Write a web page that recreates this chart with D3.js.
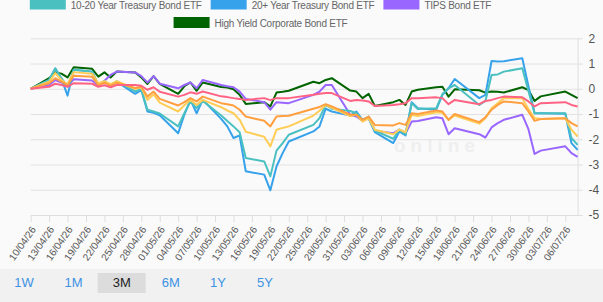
<!DOCTYPE html>
<html><head><meta charset="utf-8">
<script src="https://cdn.jsdelivr.net/npm/d3@7"></script>
<style>
html,body{margin:0;padding:0;background:#fafafa;}
svg{display:block;font-family:"Liberation Sans",Arial,Helvetica,sans-serif;}
</style></head>
<body>
<svg id="chart" width="603" height="302"></svg>
<script>
const dates = ["10/04/26","13/04/26","14/04/26","15/04/26","16/04/26","17/04/26",
"20/04/26","21/04/26","22/04/26","23/04/26","24/04/26",
"27/04/26","28/04/26","29/04/26","30/04/26","01/05/26",
"04/05/26","05/05/26","06/05/26","07/05/26","08/05/26",
"11/05/26","12/05/26","13/05/26","14/05/26","15/05/26",
"18/05/26","19/05/26","20/05/26","21/05/26","22/05/26",
"26/05/26","27/05/26","28/05/26","29/05/26",
"01/06/26","02/06/26","03/06/26","04/06/26","05/06/26",
"08/06/26","09/06/26","10/06/26","11/06/26","12/06/26",
"15/06/26","16/06/26","17/06/26","18/06/26",
"22/06/26","23/06/26","24/06/26","25/06/26","26/06/26",
"29/06/26","30/06/26","01/07/26","02/07/26",
"06/07/26","07/07/26","08/07/26"];

const treasury1to3 = [0,0.08,0.2,0.15,0.08,0.22, 0.2,0.08,0.14,0.06,0.15, 0.15,0.12,-0.04,0.06,-0.12,
-0.31,-0.24,-0.14,-0.2,-0.11, -0.3,-0.33,-0.37,-0.4,-0.44, -0.37,-0.45,-0.37,-0.37,-0.37,
-0.24,-0.2,-0.17,-0.17, -0.48,-0.44,-0.46,-0.5,-0.68, -0.64,-0.61,-0.57,-0.37,-0.37,
-0.34,-0.37,-0.61,-0.44, -0.61,-0.48,-0.44,-0.37,-0.31, -0.34,-0.5,-0.7,-0.57, -0.53,-0.64,-0.7];

const treasury3to7 = [0,0.22,0.42,0.28,0.14,0.52, 0.48,0.14,0.24,0.12,0.24, 0.03,0.08,-0.31,-0.11,-0.4,
-0.66,-0.53,-0.37,-0.5,-0.31, -0.57,-0.61,-0.66,-0.83,-1.1, -1.27,-1.49,-1.1,-1.08,-1.07,
-0.79,-0.72,-0.61,-0.7, -1.03,-1.03,-1.23,-1.1,-1.43, -1.45,-1.36,-1.43,-0.97,-1.0,
-0.86,-0.9,-1.23,-1.0, -1.32,-1.13,-0.83,-0.64,-0.5, -0.57,-0.9,-1.27,-1.2, -1.17,-1.36,-1.49];

const treasury7to10 = [0,0.28,0.62,0.35,0.18,0.66, 0.6,0.22,0.3,0.18,0.3, 0.0,0.05,-0.44,-0.22,-0.55,
-0.9,-0.65,-0.44,-0.64,-0.44, -0.73,-0.86,-0.97,-1.23,-1.7, -1.9,-2.28,-1.62,-1.55,-1.49,
-1.06,-0.87,-0.64,-0.75, -1.08,-1.03,-1.3,-1.17,-1.62, -1.8,-1.62,-1.72,-1.03,-1.08,
-0.93,-0.95,-1.23,-1.06, -1.38,-1.17,-0.77,-0.57,-0.37, -0.37,-0.8,-1.16,-1.2, -1.17,-1.62,-1.89];

const treasury10to20 = [0,0.35,0.81,0.42,0.09,0.75, 0.68,0.15,0.31,0.12,0.3, -0.1,-0.02,-0.83,-0.9,-0.98,
-1.49,-0.97,-0.5,-0.77,-0.48, -1.06,-1.28,-1.49,-1.72,-2.74, -2.88,-3.47,-2.45,-2.15,-1.82,
-1.43,-1.16,-0.64,-0.79, -0.88,-0.97,-1.23,-1.1,-1.66, -1.98,-1.62,-1.8,-0.57,-0.8,
-0.77,-0.21,0.02,0.15, -0.64,-0.48,0.55,0.57,0.68, 0.81,-0.1,-0.97,-0.97, -0.97,-1.95,-2.22];

const treasury20plus = [0,0.35,0.8,0.4,-0.27,0.75, 0.68,0.15,0.3,0.1,0.28, -0.2,-0.05,-0.9,-0.95,-1.05,
-1.76,-1.03,-0.44,-0.97,-0.44, -1.19,-1.49,-1.95,-1.85,-3.27, -3.4,-4.02,-3.08,-2.55,-2.09,
-1.69,-1.49,-0.79,-0.9, -1.06,-0.9,-1.23,-1.17,-1.72, -2.15,-1.69,-1.85,-0.53,-0.77,
-0.83,-0.24,0.02,0.39, -0.37,-0.24,1.1,1.08,1.09, 1.21,0.1,-0.97,-0.97, -0.99,-2.15,-2.42];

const tips = [0,0.15,0.35,0.25,0.12,0.38, 0.33,0.12,0.32,0.55,0.68, 0.65,0.5,0.25,0.5,0.2,
0.02,0.15,0.25,0.02,0.35, 0.15,0.1,0.06,-0.11,-0.4, -0.53,-0.83,-0.53,-0.55,-0.57,
-0.24,-0.11,0.15,0.15, -1.03,-1.1,-1.27,-1.17,-1.66, -1.76,-1.62,-1.76,-1.3,-1.28,
-1.13,-1.17,-1.8,-1.56, -1.8,-1.93,-1.53,-1.36,-1.23, -1.03,-1.6,-2.58,-2.45, -2.28,-2.55,-2.7];

const highYield = [0,0.42,0.65,0.6,0.45,0.85, 0.79,0.48,0.65,0.45,0.68, 0.65,0.45,0.19,0.5,0.19,
-0.2,0.1,0.25,-0.08,0.25, 0.07,0.05,-0.02,-0.24,-0.6, -0.53,-0.7,-0.15,-0.12,-0.08,
0.28,0.22,0.35,0.42, -0.07,-0.11,-0.37,-0.2,-0.68, -0.53,-0.44,-0.64,-0.11,-0.04,
0.06,0.08,-0.31,-0.02, -0.06,-0.15,-0.11,-0.12,-0.15, 0.06,-0.05,-0.48,-0.3, -0.11,-0.24,-0.37];

const seriesNames = ["1-3 Year Treasury Bond ETF","3-7 Year Treasury Bond ETF","7-10 Year Treasury Bond ETF",
  "10-20 Year Treasury Bond ETF","20+ Year Treasury Bond ETF","TIPS Bond ETF","High Yield Corporate Bond ETF"];
const seriesValues = [treasury1to3, treasury3to7, treasury7to10, treasury10to20, treasury20plus, tips, highYield];
const seriesColors = ["#ff6384","#ff9f40","#ffcd56","#4bc0c0","#36a2eb","#9966ff","#006400"];

const tickLabels = ["10/04/26","13/04/26","16/04/26","19/04/26","22/04/26","25/04/26","28/04/26",
"01/05/26","04/05/26","07/05/26","10/05/26","13/05/26","16/05/26","19/05/26","22/05/26","25/05/26",
"28/05/26","31/05/26","03/06/26","06/06/26","09/06/26","12/06/26","15/06/26","18/06/26","21/06/26",
"24/06/26","27/06/26","30/06/26","03/07/26","06/07/26"];
const yTicks = [2,1,0,-1,-2,-3,-4,-5];
const ranges = ["1W","1M","3M","6M","1Y","5Y"];
const selectedRange = "3M";

const parse = d3.utcParse("%d/%m/%y");
const svg = d3.select("#chart");

// bottom band
svg.append("rect").attr("x",0).attr("y",269).attr("width",603).attr("height",33).attr("fill","#f1f1f1");

const pLeft = 30.7, pRight = 577.6, pTop = 38.3, pBottom = 215;
const x = d3.scaleUtc().domain([parse("10/04/26"), parse("08/07/26")]).range([pLeft, pRight]);
const y = d3.scaleLinear().domain([-5, 2]).range([pBottom, pTop]);

// watermark
svg.append("text").attr("x",437).attr("y",152).attr("text-anchor","middle")
  .attr("font-size",19).attr("letter-spacing",5).attr("fill","#efefef").attr("font-weight","bold").text("online");

// grid
const grid = svg.append("g").attr("transform",`translate(${pRight},0)`)
  .call(d3.axisRight(y).tickValues(yTicks).tickSizeInner(-(pRight-pLeft)).tickSizeOuter(0).tickFormat(""));
grid.select(".domain").remove();
grid.selectAll("line").attr("stroke","#e2e2e2");

// y axis right
const ya = svg.append("g").attr("transform",`translate(${pRight},0)`)
  .call(d3.axisRight(y).tickValues(yTicks).tickSizeInner(5).tickSizeOuter(0).tickPadding(6)
    .tickFormat(d => String(d)));
ya.select(".domain").attr("stroke","#dedede");
ya.selectAll("line").attr("stroke","#dedede");
ya.selectAll("text").attr("fill","#555").attr("font-size",12).attr("font-family","Liberation Sans, Arial, sans-serif");

// x axis
const xa = svg.append("g").attr("transform",`translate(0,${pBottom})`)
  .call(d3.axisBottom(x).tickValues(tickLabels.map(parse)).tickSizeInner(7).tickSizeOuter(0)
    .tickFormat((d,i)=>tickLabels[i]));
xa.select(".domain").attr("stroke","#dedede");
xa.selectAll("line").attr("stroke","#dedede");
xa.selectAll("text").attr("fill","#555").attr("font-size",10).attr("font-family","Liberation Sans, Arial, sans-serif")
  .attr("text-anchor","end").attr("dy",null).attr("y",null)
  .attr("transform","translate(3,13) rotate(-55)").attr("dominant-baseline","middle");

// lines (first series drawn on top)
const line = d3.line().x((d,i)=>x(parse(dates[i]))).y(d=>y(d));
const order = d3.range(seriesValues.length).reverse();
svg.append("g").selectAll("path").data(order).join("path")
  .attr("d", k=>line(seriesValues[k]))
  .attr("fill","none").attr("stroke",k=>seriesColors[k]).attr("stroke-width",2)
  .attr("stroke-linejoin","round");

// legend (rows 1 and 2 visible, first row off-canvas in reference)
const legendRows = [[3,4,5],[6]];
const rowY = [5,23.5];
const leg = svg.append("g").attr("font-size",10).attr("letter-spacing",-0.25).attr("fill","#666");
legendRows.forEach((row,ri)=>{
  const g = leg.append("g");
  let cx = 0;
  row.forEach(k=>{
    const it = g.append("g").attr("transform",`translate(${cx},0)`);
    it.append("rect").attr("x",0).attr("y",rowY[ri]-6.5).attr("width",36).attr("height",11)
      .attr("fill",seriesColors[k]);
    const t = it.append("text").attr("x",41).attr("y",rowY[ri]).attr("dominant-baseline","central").text(seriesNames[k]);
    cx += 41 + t.node().getComputedTextLength() + 9;
  });
  const w = cx - 9;
  g.attr("transform",`translate(${260.5 - w/2},0)`);
});

// range buttons
const bx = [24,73.5,121.7,170.7,218,265];
const bg = svg.append("g");
ranges.forEach((r,i)=>{
  if (r===selectedRange) bg.append("rect").attr("x",bx[i]-24).attr("y",273).attr("width",48).attr("height",20).attr("fill","#dcdcdc");
  bg.append("text").attr("x",bx[i]).attr("y",282.5).attr("text-anchor","middle").attr("dominant-baseline","central")
    .attr("font-size",13).attr("fill", r===selectedRange ? "#222" : "#3d92e4").text(r);
});
</script>
</body></html>
